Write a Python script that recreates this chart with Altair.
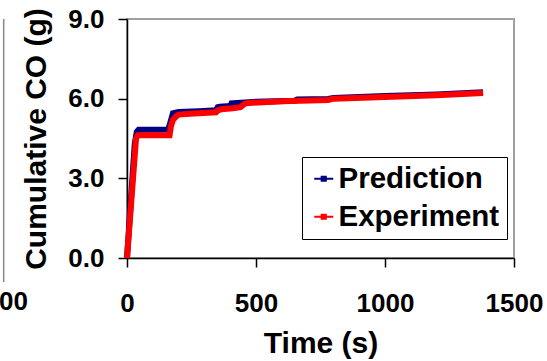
import altair as alt
import pandas as pd

# ---- data ----
series_names = ["Prediction", "Experiment"]
series_colors = ["#000080", "#ff0000"]

pred_t = [0, 30, 38, 45, 100, 160, 168, 178, 200, 280, 345, 352, 360, 400, 405, 500, 650, 660, 780, 800, 1000, 1200, 1380]
pred_v = [0.0, 4.3, 4.75, 4.83, 4.83, 4.84, 5.1, 5.45, 5.5, 5.53, 5.56, 5.68, 5.7, 5.72, 5.82, 5.88, 5.92, 5.97, 5.99, 6.03, 6.1, 6.16, 6.24]

exp_t = [0, 35, 42, 100, 165, 170, 178, 190, 200, 260, 345, 352, 365, 410, 440, 455, 470, 600, 780, 800, 1000, 1200, 1380]
exp_v = [0.0, 4.5, 4.62, 4.62, 4.62, 4.95, 5.2, 5.33, 5.4, 5.44, 5.49, 5.56, 5.6, 5.64, 5.68, 5.8, 5.84, 5.9, 5.95, 6.0, 6.06, 6.13, 6.21]

x_ticks = [0, 500, 1000, 1500]
y_ticks = [0.0, 3.0, 6.0, 9.0]

# fragment of the neighbouring panel visible at the left edge
neighbor_edge_t = [-478]
neighbor_edge_v = [9.0]
neighbor_edge_v2 = [-0.9]
neighbor_label_t = [-384]
neighbor_label_v = [-1.95]
neighbor_label_text = ["00"]

FONT = "Liberation Sans"

pred_df = pd.DataFrame({"t": pred_t, "v": pred_v, "series": series_names[0]})
exp_df = pd.DataFrame({"t": exp_t, "v": exp_v, "series": series_names[1]})
edge_df = pd.DataFrame({"t": neighbor_edge_t, "v": neighbor_edge_v, "v2": neighbor_edge_v2})
lab_df = pd.DataFrame({"t": neighbor_label_t, "v": neighbor_label_v, "txt": neighbor_label_text})

x_enc = alt.X(
    "t:Q",
    scale=alt.Scale(domain=[0, 1500], nice=False, zero=False),
    axis=alt.Axis(
        values=x_ticks, title="Time (s)", format="d", labelFlush=False,
        labelPadding=23, titleBaseline="alphabetic", titleY=94,
    ),
)
y_enc = alt.Y(
    "v:Q",
    scale=alt.Scale(domain=[0, 9], nice=False, zero=False),
    axis=alt.Axis(
        values=y_ticks, title="Cumulative CO (g)", format=".1f", labelFlush=False,
        labelPadding=14, titleBaseline="alphabetic", titleX=-82, titleY=119.5,
    ),
)

color_enc = alt.Color(
    "series:N",
    scale=alt.Scale(domain=series_names, range=series_colors),
    legend=alt.Legend(
        title=None,
        orient="none",
        legendX=175,
        legendY=138,
        symbolType="M-1,0L1,0M-0.22,-0.22L0.22,-0.22L0.22,0.22L-0.22,0.22Z",
        symbolSize=361,
        symbolStrokeWidth=2,
        labelFont=FONT,
        labelFontWeight="bold",
        labelFontSize=29.5,
        labelColor="black",
        labelLimit=400,
        labelOffset=0,
        padding=7,
        rowPadding=7,
        strokeColor="black",
        fillColor="white",
        cornerRadius=0,
    ),
)

blue = alt.Chart(pred_df).mark_line(strokeWidth=6).encode(x=x_enc, y=y_enc, color=color_enc)
red = alt.Chart(exp_df).mark_line(strokeWidth=6).encode(x=x_enc, y=y_enc, color=color_enc)

edge = alt.Chart(edge_df).mark_rule(color="#888888", strokeWidth=1.5).encode(
    x="t:Q", y="v:Q", y2="v2:Q"
)
edge_label = alt.Chart(lab_df).mark_text(
    align="right", baseline="alphabetic", font=FONT, fontWeight="bold", fontSize=26, color="black"
).encode(x="t:Q", y="v:Q", text="txt:N")

chart = (
    alt.layer(edge, edge_label, blue, red)
    .properties(
        width=387,
        height=239,
        autosize=alt.AutoSizeParams(type="none"),
        padding={"left": 127, "top": 19, "right": 33, "bottom": 103},
        background="white",
    )
    .configure_view(stroke="#a0a0a0", strokeWidth=2)
    .configure_axis(
        grid=False,
        domainColor="black",
        domainWidth=1.5,
        tickColor="black",
        tickWidth=1.5,
        tickSize=9,
        labelFont=FONT,
        labelFontWeight="bold",
        labelFontSize=26,
        labelColor="black",
        titleFont=FONT,
        titleFontWeight="bold",
        titleFontSize=30,
        titleColor="black",
    )
)

chart.save("out.html", embed_options={"renderer": "svg", "actions": False})
